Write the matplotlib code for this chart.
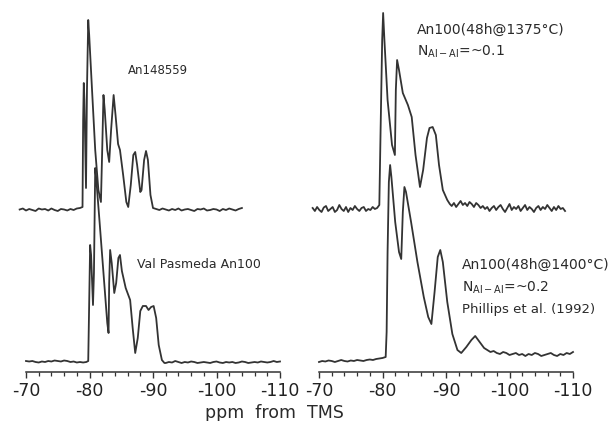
import numpy as np
import matplotlib
matplotlib.use("Agg")
import matplotlib.pyplot as plt
from matplotlib.ticker import MultipleLocator

plt.rcParams['axes.unicode_minus'] = False
plt.rcParams['font.family'] = 'DejaVu Sans'

# spectres RMN 29Si : (ppm, hauteur au-dessus de la ligne de base)
# chaque spectre = bruit de debut (ppm0, pas, valeurs) + pics + bruit de fin

# An148559 (haut gauche)
tl_debut = (-69.0, 0.5, [0.5, 1.5, -0.5, 1, 0, -1, 1.5, 0.5, 1, -0.5, 1.5, 0, -1, 1, 0.5, -0.5, 1, 0, 1.5, 2])
tl_pics_ppm = [-78.9, -79.0, -79.1, -79.2, -79.45, -79.6, -79.8, -79.95, -80.4, -80.9, -81.4, -81.8, -82.0, -82.2,
               -82.4, -82.8, -83.1, -83.4, -83.8, -84.1, -84.5, -84.8, -85.3, -85.8, -86.1, -86.5, -86.9, -87.2,
               -87.5, -88.0, -88.2, -88.6, -88.9, -89.2, -89.6, -90.0]
tl_pics_h = [3, 90, 127, 110, 22, 120, 190, 175, 120, 60, 20, 8, 60, 115,
             100, 60, 48, 80, 115, 95, 66, 60, 35, 8, 3, 25, 55, 58,
             45, 18, 20, 50, 59, 50, 15, 2]
tl_fin = (-90.5, 0.5, [1, 0, 1.5, 0.5, -0.5, 1, 0, 1.5, -0.5, 0.5, 1, 0, -1, 1, 0.5, 1.5, -0.5, 0, 1, 0.5,
                       -1, 1, 0, 1.5, 0.5, -0.5, 1, 2])

# Val Pasmeda An100 (bas gauche)
bl_debut = (-70.0, 0.5, [2, 1.5, 2, 1, 0.5, 1.5, 1, 2, 1.5, 2.5, 2, 1.5, 2.5, 2, 1, 1.5, 0.5, 1, 0.5, 1])
bl_pics_ppm = [-79.8, -79.95, -80.1, -80.25, -80.55, -80.7, -80.9, -81.05, -81.6, -82.2, -82.8, -83.0, -83.1,
               -83.25, -83.5, -83.9, -84.2, -84.55, -84.8, -85.1, -85.7, -86.4, -86.8, -87.2, -87.6, -88.0,
               -88.4, -88.9, -89.3, -89.7, -90.1, -90.5, -90.9, -91.4, -91.8]
bl_pics_h = [2, 60, 118, 108, 58, 90, 195, 185, 140, 90, 40, 30, 80,
             113, 100, 70, 80, 105, 108, 92, 75, 63, 35, 10, 25, 52,
             57, 57, 53, 56, 57, 45, 18, 3, 0]
bl_fin = (-92.0, 0.5, [0, 1, 0.5, 2, 1, 0, 1, 0.5, 1.5, 1, 0, 0.5, 1, 0.5, 0, 1, 1.5, 0.5, 0, 1, 0.5, 1, 0,
                       0.5, 1.5, 1, 0, 0.5, 1, 0.5, 1.5, 1, 0.5, 1, 2, 1, 1.5])

# An100 48h@1375 C (haut droite)
tr_debut = (-69.0, 0.35, [2, -1, 3, 0, -2, 2.5, 4, -1, 1, 3, -2, 0, 5, 1, -1, 3, -2, 2, 0, 4, 1, -1, 2, 3, -1,
                          1, 0, 3, 1, 2])
tr_pics_ppm = [-79.5, -79.7, -79.95, -80.1, -80.3, -80.8, -81.5, -81.95, -82.1, -82.3, -82.6, -83.2, -84.0,
               -84.6, -85.2, -85.9, -86.4, -87.0, -87.4, -87.9, -88.4, -88.9, -89.5, -90.2, -90.6]
tr_pics_h = [5, 80, 170, 197, 170, 110, 65, 55, 120, 150, 140, 117, 105,
             93, 55, 23, 40, 72, 82, 83, 75, 45, 20, 10, 6]
tr_fin = (-90.9, 0.35, [4, 7, 3, 6, 9, 5, 7, 4, 8, 6, 3, 7, 5, 2, 4, 1, 3, -1, 2, 4, 0, 3, 5, 1, -2, 2, 6, 0,
                        3, 1, 4, -1, 2, 5, 0, 3, 1, -2, 2, 4, 0, 3, 1, 5, 2, -1, 3, 0, 4, 1, 2, -1])

# An100 48h@1400 C, Phillips et al. (bas droite)
br_debut = (-70.0, 0.5, [0, 1, 0.5, 1.5, 1, 0, 1, 2, 1, 0.5, 1.5, 1, 2, 1.5, 1, 2, 2.5, 2, 3, 3.5, 4])
br_pics_ppm = [-80.5, -80.65, -80.8, -81.0, -81.2, -81.4, -82.0, -82.6, -82.95, -83.2, -83.45, -83.7, -84.5,
               -85.5, -86.5, -87.2, -87.7, -88.2, -88.7, -89.1, -89.5, -90.2, -91.0, -91.8, -92.4, -93.2,
               -94.0, -94.6, -95.3, -96.0]
br_pics_h = [5, 30, 110, 180, 197, 185, 140, 110, 103, 150, 175, 170, 140,
             100, 65, 45, 38, 70, 105, 112, 100, 60, 28, 12, 9, 15,
             22, 26, 20, 14]
br_fin = (-96.5, 0.5, [12, 10, 11, 9, 8, 10, 9, 7, 8, 9, 7, 8, 6, 8, 7, 9, 8, 6, 7, 8, 9, 7, 6, 8, 7, 9, 8, 10])

# niveaux des lignes de base (meme unite que les hauteurs)
base_gauche = (9, 162)
base_droite = (10, 162)

tick_labels = ['-70', '-80', '-90', '-100', '-110']


def assemble(debut, pics_ppm, pics_h, fin):
    x0, pas, vals = debut
    xd = x0 - pas * np.arange(len(vals))
    x1, pas1, vals1 = fin
    xf = x1 - pas1 * np.arange(len(vals1))
    x = np.concatenate([xd, pics_ppm, xf])
    y = np.concatenate([vals, pics_h, vals1])
    return x, y


couleur = '#333333'
fig = plt.figure(figsize=(6.15, 4.21), dpi=100)
W, H = 615, 421


def panneau(x_gauche, x_droite):
    ax = fig.add_axes([x_gauche / W, (H - 372) / H, (x_droite - x_gauche) / W, 372 / H])
    ax.set_xlim(-70, -110)
    ax.set_ylim(0, 372)
    for s in ['top', 'left', 'right']:
        ax.spines[s].set_visible(False)
    ax.spines['bottom'].set_color(couleur)
    ax.spines['bottom'].set_linewidth(1.1)
    ax.set_yticks([])
    ax.xaxis.set_minor_locator(MultipleLocator(2))
    ax.set_xticks([-70, -80, -90, -100, -110])
    ax.set_xticklabels(tick_labels)
    ax.tick_params(axis='x', which='major', direction='out', length=4.5, width=1.0,
                   color=couleur, labelsize=12.5, labelcolor='#222222', pad=3)
    ax.tick_params(axis='x', which='minor', direction='out', length=3, width=0.9, color=couleur)
    ax.patch.set_alpha(0)
    return ax


ax1 = panneau(26, 280)
ax2 = panneau(319, 573)

for (deb, pp, ph, fin), base in zip([(bl_debut, bl_pics_ppm, bl_pics_h, bl_fin),
                                     (tl_debut, tl_pics_ppm, tl_pics_h, tl_fin)], base_gauche):
    x, y = assemble(deb, pp, ph, fin)
    ax1.plot(x, y + base, color=couleur, lw=1.3, clip_on=False, solid_joinstyle='round')

for (deb, pp, ph, fin), base in zip([(br_debut, br_pics_ppm, br_pics_h, br_fin),
                                     (tr_debut, tr_pics_ppm, tr_pics_h, tr_fin)], base_droite):
    x, y = assemble(deb, pp, ph, fin)
    ax2.plot(x, y + base, color=couleur, lw=1.3, clip_on=False, solid_joinstyle='round')

tc = '#2a2a2a'
ax1.text(-86.1, 302, 'An148559', fontsize=8.5, color=tc, va='center')
ax1.text(-87.5, 107, 'Val Pasmeda An100', fontsize=9, color=tc, va='center')

ax2.text(-85.4, 342, 'An100(48h@1375°C)', fontsize=10, color=tc, va='center')
ax2.text(-85.4, 320, 'N$_{\\rm Al-Al}$=~0.1', fontsize=10, color=tc, va='center')
ax2.text(-92.5, 107, 'An100(48h@1400°C)', fontsize=10, color=tc, va='center')
ax2.text(-92.5, 84, 'N$_{\\rm Al-Al}$=~0.2', fontsize=10, color=tc, va='center')
ax2.text(-92.5, 62, 'Phillips et al. (1992)', fontsize=9.5, color=tc, va='center')

fig.text(274 / W, (H - 413) / H, 'ppm  from  TMS', fontsize=12.5, color=tc, ha='center', va='center')

fig.savefig('out.png', dpi=100)
